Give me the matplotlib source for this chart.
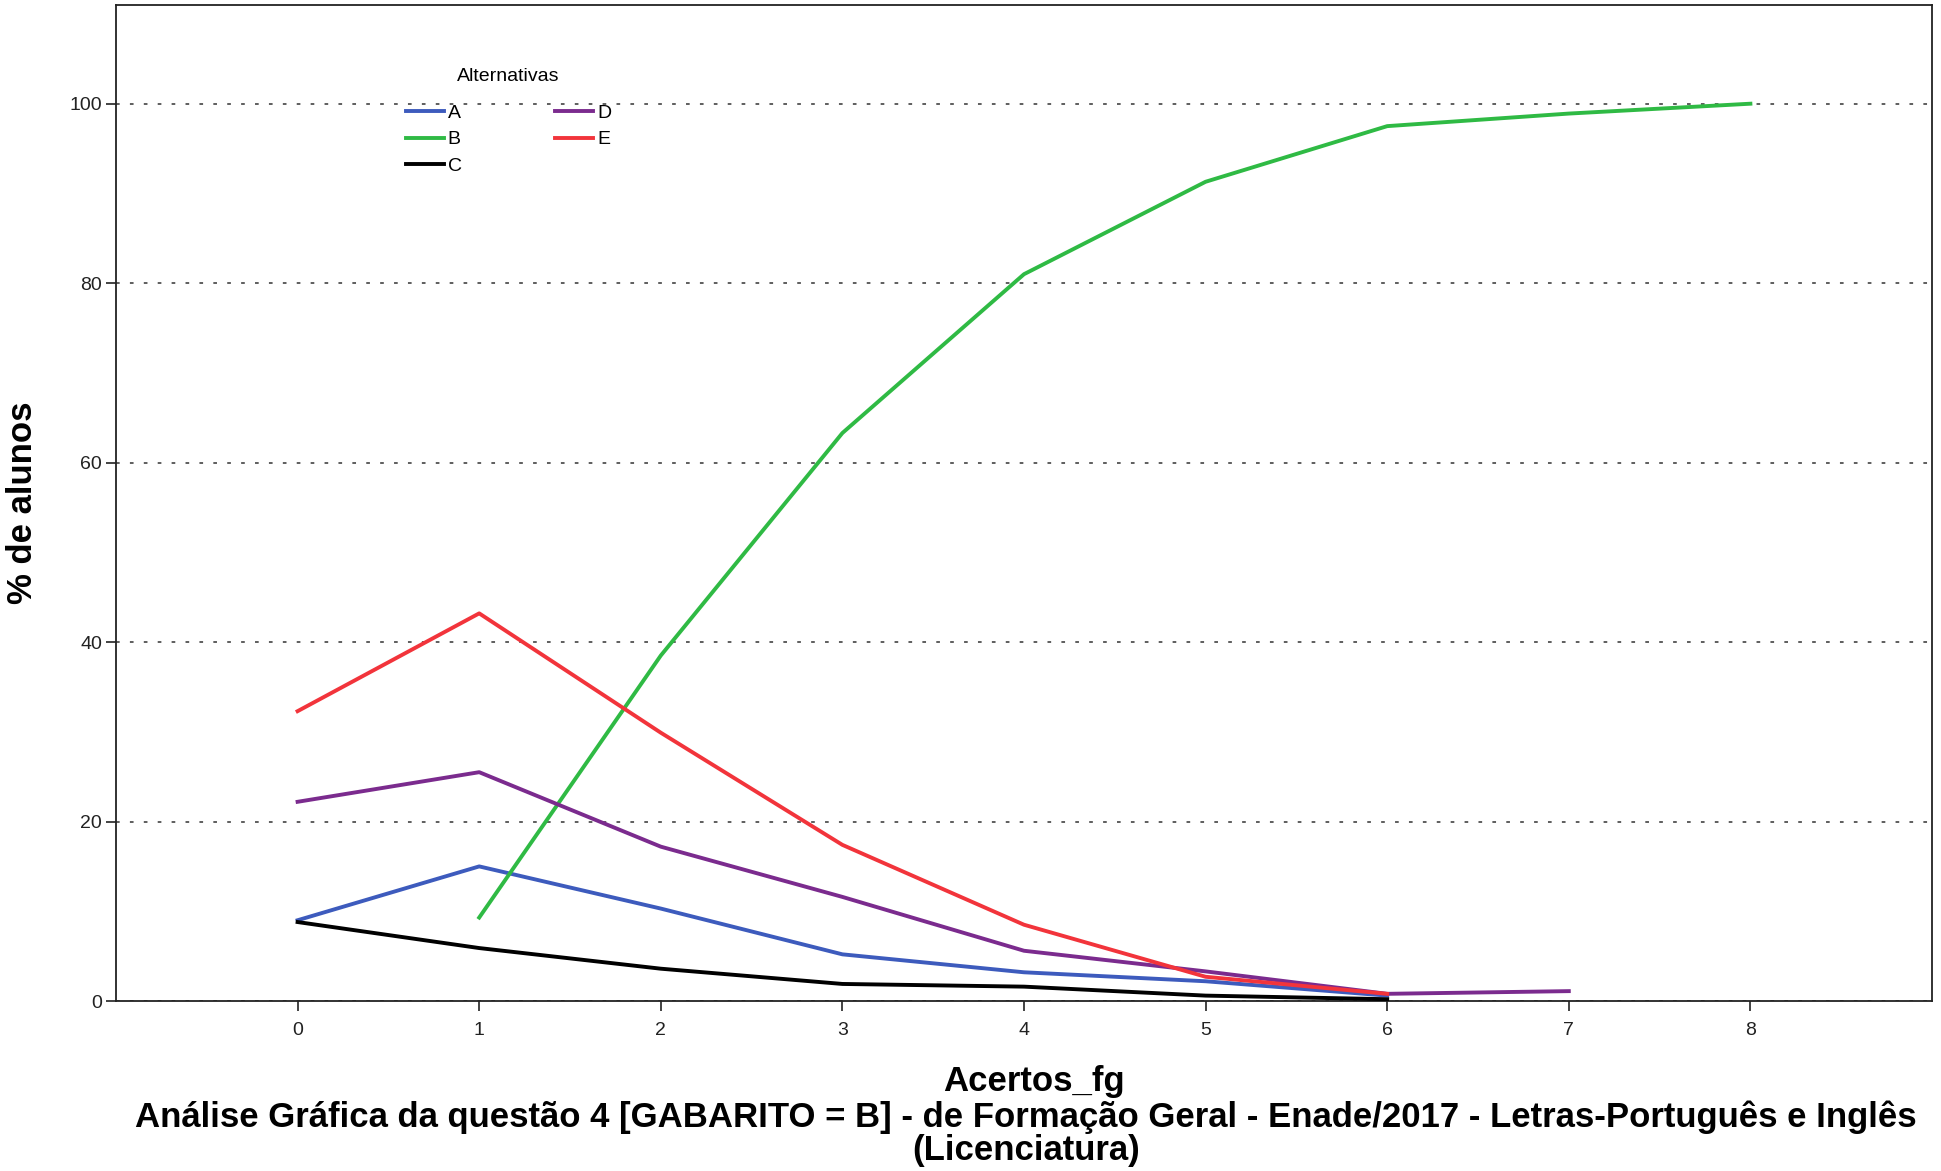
import matplotlib
matplotlib.use('Agg')
import matplotlib.pyplot as plt

acertos = [0, 1, 2, 3, 4, 5, 6, 7, 8]

# % de alunos por alternativa (None = sem dado)
alt_A = [9.0, 15.0, 10.3, 5.2, 3.2, 2.2, 0.6]
alt_B = [None, 9.3, 38.5, 63.3, 81.0, 91.3, 97.5, 98.9, 100.0]
alt_C = [8.8, 5.9, 3.6, 1.9, 1.6, 0.6, 0.2]
alt_D = [22.2, 25.5, 17.2, 11.6, 5.6, 3.3, 0.8, 1.1]
alt_E = [32.3, 43.2, 29.9, 17.4, 8.5, 2.7, 0.8]

yticks = [0, 20, 40, 60, 80, 100]

cores = {'A': '#3d5bbd', 'B': '#2fba44', 'C': '#000000', 'D': '#7b2b8e', 'E': '#f2343b'}

plt.rcParams['font.family'] = ['Liberation Sans', 'DejaVu Sans']

fig = plt.figure(figsize=(19.41, 11.71), dpi=100)
ax = fig.add_axes([116 / 1941, 1 - 1001 / 1171, (1932 - 116) / 1941, (1001 - 5) / 1171])

for y in yticks:
    ax.axhline(y, color='#333333', lw=1.1, dashes=(2.4, 6.7), zorder=1)

series = [('A', alt_A), ('B', alt_B), ('C', alt_C), ('D', alt_D), ('E', alt_E)]
handles = {}
for nome, vals in series:
    xs = [x for x, v in zip(acertos, vals) if v is not None]
    ys = [v for v in vals if v is not None]
    h, = ax.plot(xs, ys, color=cores[nome], lw=2.8, label=nome, zorder=3)
    handles[nome] = h

ax.set_xlim(-1, 9)
ax.set_ylim(0, 111)
ax.set_xticks(acertos)
ax.set_yticks(yticks)
ax.tick_params(direction='out', length=7, width=1.2, labelsize=14, color='#222222',
               labelcolor='#222222')
ax.tick_params(axis='x', pad=8)
ax.tick_params(axis='y', pad=3)
for sp in ax.spines.values():
    sp.set_linewidth(1.3)
    sp.set_color('#222222')

ax.set_ylabel('% de alunos', fontweight='bold', fontsize=25, labelpad=22)

leg = ax.legend([handles[k] for k in 'ABCDE'], list('ABCDE'), ncol=2, frameon=False,
                title='Alternativas', fontsize=14, title_fontsize=14,
                loc='upper left', bbox_to_anchor=(396 / 1941, 1 - 58 / 1171),
                bbox_transform=fig.transFigure, borderpad=0, handlelength=1.96,
                handletextpad=0.2, columnspacing=4.8, labelspacing=0.46)
leg._legend_box.sep = 14

fig.text(1034 / 1941, 1 - 1081 / 1171, 'Acertos_fg', fontweight='bold',
         fontsize=25, ha='center', va='center')
fig.text(1026 / 1941, 1 - 1134 / 1171,
         'Análise Gráfica da questão 4 [GABARITO = B] - de Formação Geral - Enade/2017 - Letras-Português e Inglês\n(Licenciatura)',
         fontweight='bold', fontsize=25, ha='center', va='center', linespacing=1.0)

fig.savefig('out.png', dpi=100)
